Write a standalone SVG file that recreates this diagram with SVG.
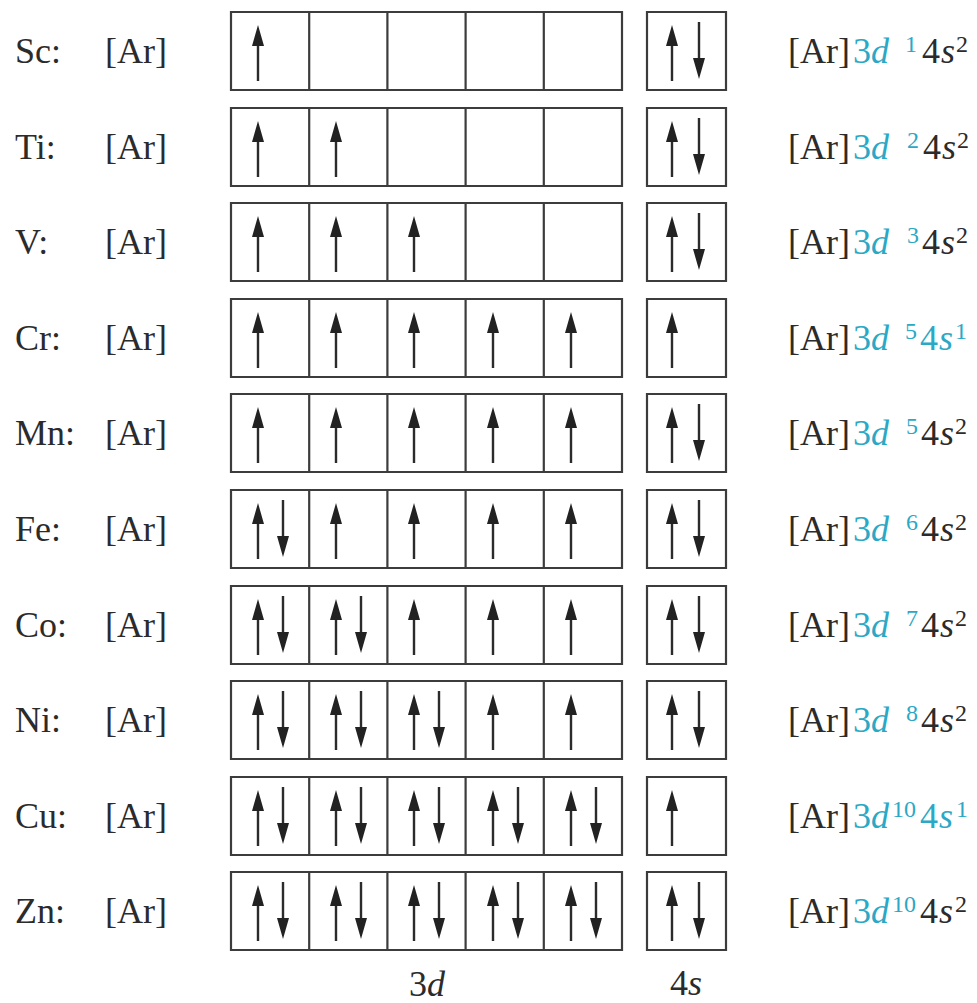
<svg xmlns="http://www.w3.org/2000/svg" width="977" height="1003" viewBox="0 0 977 1003">
<g id="row-Sc">
<path fill="none" stroke="#3c3c3c" stroke-width="2.2" d="M231 12h391v78h-391z M309.2 12v78 M387.4 12v78 M465.6 12v78 M543.8 12v78 M647 12h79v78h-79z"/>
<path fill="none" stroke="#2b2b2b" stroke-width="2.4" d="M258 81V42 M672 81V42 M699 22V62"/>
<path fill="#222" d="M258 25l-6 21h12z M672 25l-6 21h12z M699 79l-6-21h12z"/>
<text x="15" y="63" font-family="Liberation Serif" font-size="36" fill="#2b2b2b">Sc:</text>
<text x="105" y="63" font-family="Liberation Serif" font-size="36" fill="#2b2b2b">[Ar]</text>
<text y="63" font-family="Liberation Serif" font-size="36" fill="#2b2b2b"><tspan x="788">[Ar]</tspan><tspan fill="#2ba8c6" x="853">3</tspan><tspan fill="#2ba8c6" font-style="italic" x="871">d</tspan><tspan fill="#2ba8c6" font-size="24" x="905" y="52">1</tspan><tspan x="922" y="63">4</tspan><tspan font-style="italic" x="941">s</tspan><tspan font-size="24" x="956" y="52">2</tspan></text>
</g>
<g id="row-Ti">
<path fill="none" stroke="#3c3c3c" stroke-width="2.2" d="M231 108h391v78h-391z M309.2 108v78 M387.4 108v78 M465.6 108v78 M543.8 108v78 M647 108h79v78h-79z"/>
<path fill="none" stroke="#2b2b2b" stroke-width="2.4" d="M258 177V138 M336 177V138 M672 177V138 M699 118V158"/>
<path fill="#222" d="M258 121l-6 21h12z M336 121l-6 21h12z M672 121l-6 21h12z M699 175l-6-21h12z"/>
<text x="15" y="159" font-family="Liberation Serif" font-size="36" fill="#2b2b2b">Ti:</text>
<text x="105" y="159" font-family="Liberation Serif" font-size="36" fill="#2b2b2b">[Ar]</text>
<text y="159" font-family="Liberation Serif" font-size="36" fill="#2b2b2b"><tspan x="788">[Ar]</tspan><tspan fill="#2ba8c6" x="853">3</tspan><tspan fill="#2ba8c6" font-style="italic" x="871">d</tspan><tspan fill="#2ba8c6" font-size="24" x="907" y="148">2</tspan><tspan x="923" y="159">4</tspan><tspan font-style="italic" x="942">s</tspan><tspan font-size="24" x="957" y="148">2</tspan></text>
</g>
<g id="row-V">
<path fill="none" stroke="#3c3c3c" stroke-width="2.2" d="M231 203h391v78h-391z M309.2 203v78 M387.4 203v78 M465.6 203v78 M543.8 203v78 M647 203h79v78h-79z"/>
<path fill="none" stroke="#2b2b2b" stroke-width="2.4" d="M258 272V233 M336 272V233 M414 272V233 M672 272V233 M699 213V253"/>
<path fill="#222" d="M258 216l-6 21h12z M336 216l-6 21h12z M414 216l-6 21h12z M672 216l-6 21h12z M699 270l-6-21h12z"/>
<text x="15" y="254" font-family="Liberation Serif" font-size="36" fill="#2b2b2b">V:</text>
<text x="105" y="254" font-family="Liberation Serif" font-size="36" fill="#2b2b2b">[Ar]</text>
<text y="254" font-family="Liberation Serif" font-size="36" fill="#2b2b2b"><tspan x="788">[Ar]</tspan><tspan fill="#2ba8c6" x="853">3</tspan><tspan fill="#2ba8c6" font-style="italic" x="871">d</tspan><tspan fill="#2ba8c6" font-size="24" x="907" y="243">3</tspan><tspan x="922" y="254">4</tspan><tspan font-style="italic" x="941">s</tspan><tspan font-size="24" x="956" y="243">2</tspan></text>
</g>
<g id="row-Cr">
<path fill="none" stroke="#3c3c3c" stroke-width="2.2" d="M231 299h391v78h-391z M309.2 299v78 M387.4 299v78 M465.6 299v78 M543.8 299v78 M647 299h79v78h-79z"/>
<path fill="none" stroke="#2b2b2b" stroke-width="2.4" d="M258 368V329 M336 368V329 M414 368V329 M493 368V329 M571 368V329 M672 368V329"/>
<path fill="#222" d="M258 312l-6 21h12z M336 312l-6 21h12z M414 312l-6 21h12z M493 312l-6 21h12z M571 312l-6 21h12z M672 312l-6 21h12z"/>
<text x="15" y="350" font-family="Liberation Serif" font-size="36" fill="#2b2b2b">Cr:</text>
<text x="105" y="350" font-family="Liberation Serif" font-size="36" fill="#2b2b2b">[Ar]</text>
<text y="350" font-family="Liberation Serif" font-size="36" fill="#2b2b2b"><tspan x="788">[Ar]</tspan><tspan fill="#2ba8c6" x="853">3</tspan><tspan fill="#2ba8c6" font-style="italic" x="871">d</tspan><tspan fill="#2ba8c6" font-size="24" x="905" y="339">5</tspan><tspan fill="#2ba8c6" x="920" y="350">4</tspan><tspan fill="#2ba8c6" font-style="italic" x="939">s</tspan><tspan fill="#2ba8c6" font-size="24" x="955" y="339">1</tspan></text>
</g>
<g id="row-Mn">
<path fill="none" stroke="#3c3c3c" stroke-width="2.2" d="M231 394h391v78h-391z M309.2 394v78 M387.4 394v78 M465.6 394v78 M543.8 394v78 M647 394h79v78h-79z"/>
<path fill="none" stroke="#2b2b2b" stroke-width="2.4" d="M258 463V424 M336 463V424 M414 463V424 M493 463V424 M571 463V424 M672 463V424 M699 404V444"/>
<path fill="#222" d="M258 407l-6 21h12z M336 407l-6 21h12z M414 407l-6 21h12z M493 407l-6 21h12z M571 407l-6 21h12z M672 407l-6 21h12z M699 461l-6-21h12z"/>
<text x="15" y="445" font-family="Liberation Serif" font-size="36" fill="#2b2b2b">Mn:</text>
<text x="105" y="445" font-family="Liberation Serif" font-size="36" fill="#2b2b2b">[Ar]</text>
<text y="445" font-family="Liberation Serif" font-size="36" fill="#2b2b2b"><tspan x="788">[Ar]</tspan><tspan fill="#2ba8c6" x="853">3</tspan><tspan fill="#2ba8c6" font-style="italic" x="871">d</tspan><tspan fill="#2ba8c6" font-size="24" x="906" y="434">5</tspan><tspan x="921" y="445">4</tspan><tspan font-style="italic" x="940">s</tspan><tspan font-size="24" x="955" y="434">2</tspan></text>
</g>
<g id="row-Fe">
<path fill="none" stroke="#3c3c3c" stroke-width="2.2" d="M231 490h391v78h-391z M309.2 490v78 M387.4 490v78 M465.6 490v78 M543.8 490v78 M647 490h79v78h-79z"/>
<path fill="none" stroke="#2b2b2b" stroke-width="2.4" d="M258 559V520 M283 500V540 M336 559V520 M414 559V520 M493 559V520 M571 559V520 M672 559V520 M699 500V540"/>
<path fill="#222" d="M258 503l-6 21h12z M283 557l-6-21h12z M336 503l-6 21h12z M414 503l-6 21h12z M493 503l-6 21h12z M571 503l-6 21h12z M672 503l-6 21h12z M699 557l-6-21h12z"/>
<text x="15" y="541" font-family="Liberation Serif" font-size="36" fill="#2b2b2b">Fe:</text>
<text x="105" y="541" font-family="Liberation Serif" font-size="36" fill="#2b2b2b">[Ar]</text>
<text y="541" font-family="Liberation Serif" font-size="36" fill="#2b2b2b"><tspan x="788">[Ar]</tspan><tspan fill="#2ba8c6" x="853">3</tspan><tspan fill="#2ba8c6" font-style="italic" x="871">d</tspan><tspan fill="#2ba8c6" font-size="24" x="906" y="530">6</tspan><tspan x="921" y="541">4</tspan><tspan font-style="italic" x="940">s</tspan><tspan font-size="24" x="955" y="530">2</tspan></text>
</g>
<g id="row-Co">
<path fill="none" stroke="#3c3c3c" stroke-width="2.2" d="M231 586h391v78h-391z M309.2 586v78 M387.4 586v78 M465.6 586v78 M543.8 586v78 M647 586h79v78h-79z"/>
<path fill="none" stroke="#2b2b2b" stroke-width="2.4" d="M258 655V616 M283 596V636 M336 655V616 M361 596V636 M414 655V616 M493 655V616 M571 655V616 M672 655V616 M699 596V636"/>
<path fill="#222" d="M258 599l-6 21h12z M283 653l-6-21h12z M336 599l-6 21h12z M361 653l-6-21h12z M414 599l-6 21h12z M493 599l-6 21h12z M571 599l-6 21h12z M672 599l-6 21h12z M699 653l-6-21h12z"/>
<text x="15" y="637" font-family="Liberation Serif" font-size="36" fill="#2b2b2b">Co:</text>
<text x="105" y="637" font-family="Liberation Serif" font-size="36" fill="#2b2b2b">[Ar]</text>
<text y="637" font-family="Liberation Serif" font-size="36" fill="#2b2b2b"><tspan x="788">[Ar]</tspan><tspan fill="#2ba8c6" x="853">3</tspan><tspan fill="#2ba8c6" font-style="italic" x="871">d</tspan><tspan fill="#2ba8c6" font-size="24" x="906" y="626">7</tspan><tspan x="921" y="637">4</tspan><tspan font-style="italic" x="940">s</tspan><tspan font-size="24" x="955" y="626">2</tspan></text>
</g>
<g id="row-Ni">
<path fill="none" stroke="#3c3c3c" stroke-width="2.2" d="M231 681h391v78h-391z M309.2 681v78 M387.4 681v78 M465.6 681v78 M543.8 681v78 M647 681h79v78h-79z"/>
<path fill="none" stroke="#2b2b2b" stroke-width="2.4" d="M258 750V711 M283 691V731 M336 750V711 M361 691V731 M414 750V711 M439 691V731 M493 750V711 M571 750V711 M672 750V711 M699 691V731"/>
<path fill="#222" d="M258 694l-6 21h12z M283 748l-6-21h12z M336 694l-6 21h12z M361 748l-6-21h12z M414 694l-6 21h12z M439 748l-6-21h12z M493 694l-6 21h12z M571 694l-6 21h12z M672 694l-6 21h12z M699 748l-6-21h12z"/>
<text x="15" y="732" font-family="Liberation Serif" font-size="36" fill="#2b2b2b">Ni:</text>
<text x="105" y="732" font-family="Liberation Serif" font-size="36" fill="#2b2b2b">[Ar]</text>
<text y="732" font-family="Liberation Serif" font-size="36" fill="#2b2b2b"><tspan x="788">[Ar]</tspan><tspan fill="#2ba8c6" x="853">3</tspan><tspan fill="#2ba8c6" font-style="italic" x="871">d</tspan><tspan fill="#2ba8c6" font-size="24" x="906" y="721">8</tspan><tspan x="921" y="732">4</tspan><tspan font-style="italic" x="940">s</tspan><tspan font-size="24" x="955" y="721">2</tspan></text>
</g>
<g id="row-Cu">
<path fill="none" stroke="#3c3c3c" stroke-width="2.2" d="M231 777h391v78h-391z M309.2 777v78 M387.4 777v78 M465.6 777v78 M543.8 777v78 M647 777h79v78h-79z"/>
<path fill="none" stroke="#2b2b2b" stroke-width="2.4" d="M258 846V807 M283 787V827 M336 846V807 M361 787V827 M414 846V807 M439 787V827 M493 846V807 M518 787V827 M571 846V807 M596 787V827 M672 846V807"/>
<path fill="#222" d="M258 790l-6 21h12z M283 844l-6-21h12z M336 790l-6 21h12z M361 844l-6-21h12z M414 790l-6 21h12z M439 844l-6-21h12z M493 790l-6 21h12z M518 844l-6-21h12z M571 790l-6 21h12z M596 844l-6-21h12z M672 790l-6 21h12z"/>
<text x="15" y="828" font-family="Liberation Serif" font-size="36" fill="#2b2b2b">Cu:</text>
<text x="105" y="828" font-family="Liberation Serif" font-size="36" fill="#2b2b2b">[Ar]</text>
<text y="828" font-family="Liberation Serif" font-size="36" fill="#2b2b2b"><tspan x="788">[Ar]</tspan><tspan fill="#2ba8c6" x="853">3</tspan><tspan fill="#2ba8c6" font-style="italic" x="871">d</tspan><tspan fill="#2ba8c6" font-size="24" x="892" y="817">10</tspan><tspan fill="#2ba8c6" x="920" y="828">4</tspan><tspan fill="#2ba8c6" font-style="italic" x="939">s</tspan><tspan fill="#2ba8c6" font-size="24" x="956" y="817">1</tspan></text>
</g>
<g id="row-Zn">
<path fill="none" stroke="#3c3c3c" stroke-width="2.2" d="M231 872h391v78h-391z M309.2 872v78 M387.4 872v78 M465.6 872v78 M543.8 872v78 M647 872h79v78h-79z"/>
<path fill="none" stroke="#2b2b2b" stroke-width="2.4" d="M258 941V902 M283 882V922 M336 941V902 M361 882V922 M414 941V902 M439 882V922 M493 941V902 M518 882V922 M571 941V902 M596 882V922 M672 941V902 M699 882V922"/>
<path fill="#222" d="M258 885l-6 21h12z M283 939l-6-21h12z M336 885l-6 21h12z M361 939l-6-21h12z M414 885l-6 21h12z M439 939l-6-21h12z M493 885l-6 21h12z M518 939l-6-21h12z M571 885l-6 21h12z M596 939l-6-21h12z M672 885l-6 21h12z M699 939l-6-21h12z"/>
<text x="15" y="923" font-family="Liberation Serif" font-size="36" fill="#2b2b2b">Zn:</text>
<text x="105" y="923" font-family="Liberation Serif" font-size="36" fill="#2b2b2b">[Ar]</text>
<text y="923" font-family="Liberation Serif" font-size="36" fill="#2b2b2b"><tspan x="788">[Ar]</tspan><tspan fill="#2ba8c6" x="853">3</tspan><tspan fill="#2ba8c6" font-style="italic" x="871">d</tspan><tspan fill="#2ba8c6" font-size="24" x="892" y="912">10</tspan><tspan x="920" y="923">4</tspan><tspan font-style="italic" x="939">s</tspan><tspan font-size="24" x="955" y="912">2</tspan></text>
</g>
<g id="axis-labels">
<text x="427" y="996" text-anchor="middle" font-family="Liberation Serif" font-size="36" fill="#2b2b2b">3<tspan font-style="italic">d</tspan></text>
<text x="686" y="995" text-anchor="middle" font-family="Liberation Serif" font-size="36" fill="#2b2b2b">4<tspan font-style="italic">s</tspan></text>
</g>
</svg>
